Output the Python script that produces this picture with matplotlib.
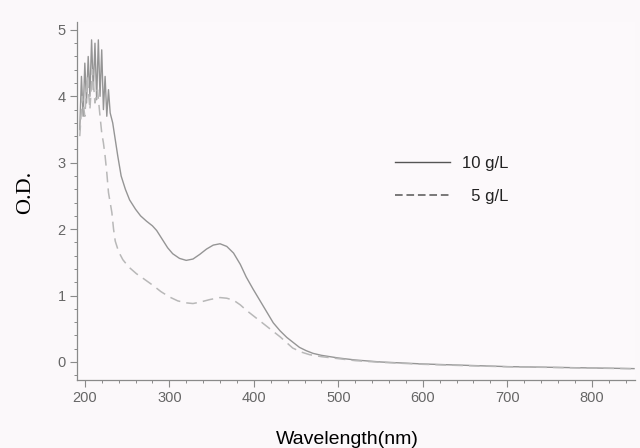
import numpy as np
import matplotlib.pyplot as plt
from matplotlib.ticker import MultipleLocator

plt.rcParams['font.family'] = ['Liberation Sans Narrow', 'Liberation Sans', 'DejaVu Sans']

# 10 g/L (solid) - noisy start then smooth
wl_10 = [194, 196, 198, 200, 202, 204, 206, 208, 210, 212, 214, 216, 218, 220, 222, 224,
         226, 228, 230, 233, 236, 239, 243, 248, 253, 260, 266, 273, 280, 285, 292, 298,
         304, 312, 320, 328, 336, 344, 352, 360, 368, 376, 384, 391, 399, 407, 415, 423,
         431, 439, 447, 454, 462, 470, 480, 500, 520, 550, 600, 650, 700, 750, 800, 850]
od_10 = [3.5, 4.3, 3.7, 4.5, 3.9, 4.6, 4.0, 4.85, 4.1, 4.8, 3.95, 4.85, 4.0, 4.7, 3.8, 4.3,
         3.7, 4.1, 3.75, 3.6, 3.35, 3.1, 2.8, 2.6, 2.44, 2.3, 2.2, 2.12, 2.05, 1.98, 1.84, 1.72,
         1.63, 1.56, 1.53, 1.55, 1.62, 1.7, 1.76, 1.78, 1.74, 1.64, 1.47, 1.28, 1.1, 0.93, 0.76, 0.59,
         0.47, 0.37, 0.29, 0.22, 0.17, 0.13, 0.1, 0.06, 0.03, 0.0, -0.03, -0.05, -0.07, -0.08, -0.09, -0.1]

# 5 g/L (dashed)
wl_5 = [194, 197, 200, 203, 206, 209, 212, 215, 218, 220, 222, 224,
        226, 228, 230, 232, 234, 236, 240, 245, 252, 261, 270, 281, 290, 300, 310, 320,
        328, 336, 348, 360, 368, 376, 384, 391, 401, 411, 421, 431, 439, 446, 456, 466,
        480, 500, 520, 550, 600, 650, 700, 750, 800, 850]
od_5 = [3.4, 4.0, 3.7, 4.3, 3.8, 4.4, 3.9, 4.1, 3.7, 3.45, 3.3, 3.1,
        2.85, 2.55, 2.4, 2.25, 2.0, 1.82, 1.66, 1.54, 1.43, 1.33, 1.25, 1.15, 1.06, 0.98, 0.92, 0.89,
        0.88, 0.9, 0.94, 0.97, 0.96, 0.93, 0.86, 0.78, 0.68, 0.58, 0.48, 0.38, 0.29, 0.21, 0.15, 0.11,
        0.08, 0.05, 0.02, -0.005, -0.035, -0.055, -0.072, -0.082, -0.092, -0.102]

grey = '#8a8a8a'

fig = plt.figure(figsize=(6.4, 4.48), dpi=100, facecolor='#fbf8fa')
ax = fig.add_axes([0.120, 0.152, 0.872, 0.799])
ax.set_facecolor('#fcf9fb')

ax.plot(wl_10, od_10, color='#959595', lw=1.0, label='10 g/L')
ax.plot(wl_5, od_5, color='#b8b8b8', lw=1.1, dashes=(7, 4), label='  5 g/L')

ax.set_xlim(190.5, 851)
ax.set_ylim(-0.27, 5.12)

for s in ['top', 'right']:
    ax.spines[s].set_visible(False)
for s in ['left', 'bottom']:
    ax.spines[s].set_color(grey)
    ax.spines[s].set_linewidth(0.9)

ax.xaxis.set_major_locator(MultipleLocator(100))
ax.xaxis.set_minor_locator(MultipleLocator(20))
ax.yaxis.set_major_locator(MultipleLocator(1))
ax.yaxis.set_minor_locator(MultipleLocator(0.2))
ax.tick_params(which='major', direction='out', length=5, width=0.8, color=grey,
               labelcolor='#666666', labelsize=10.5, pad=3)
ax.tick_params(which='minor', direction='out', length=2.5, width=0.7, color=grey)

ax.set_xlabel('Wavelength(nm)', fontsize=14, color='black',
              family=['Liberation Sans', 'DejaVu Sans'])
ax.xaxis.set_label_coords(0.484, -0.142)
ax.set_ylabel('O.D.', fontsize=16, color='black',
              family=['Liberation Serif', 'DejaVu Serif'])
ax.yaxis.set_label_coords(-0.074, 0.525)

leg = ax.legend(loc='upper left', bbox_to_anchor=(0.543, 0.668), frameon=False,
                fontsize=12, handlelength=3.3, handletextpad=0.7, labelspacing=1.07)
leg.get_lines()[0].set_color('#555555')
leg.get_lines()[1].set_color('#555555')
leg.get_lines()[1].set_dashes((5, 2.5))
for t in leg.get_texts():
    t.set_color('#222222')
    t.set_family(['Liberation Sans', 'DejaVu Sans'])

fig.savefig('out.png', dpi=100, facecolor=fig.get_facecolor())
